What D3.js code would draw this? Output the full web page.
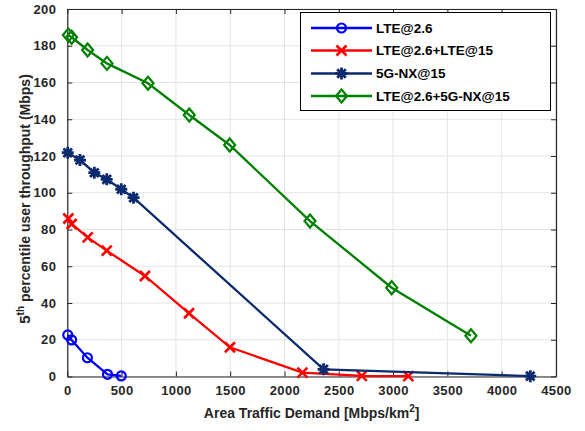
<!DOCTYPE html>
<html><head><meta charset="utf-8">
<script src="https://cdn.jsdelivr.net/npm/d3@7"></script>
<style>
html,body{margin:0;padding:0;background:#fff;}
svg{display:block;font-family:"Liberation Sans",Arial,sans-serif;font-weight:bold;}
</style></head>
<body><svg id="c" width="585" height="431"></svg>
<script>
const seriesNames = ["LTE@2.6","LTE@2.6+LTE@15","5G-NX@15","LTE@2.6+5G-NX@15"];
const lteX = [4, 40, 185, 370, 497];
const lteY = [22.6, 19.9, 10.2, 1.2, 0.3];
const lte15X = [10, 40, 188, 363, 715, 1121, 1498, 2165, 2712, 3140];
const lte15Y = [86, 83, 75.7, 68.5, 54.7, 34.4, 15.9, 2.1, 0.3, 0.2];
const nxX = [4, 117, 249, 363, 497, 610, 2360, 4263];
const nxY = [121.8, 117.8, 110.9, 107.3, 101.9, 97.3, 3.9, 0.2];
const comboX = [10, 40, 187, 365, 743, 1123, 1495, 2235, 2987, 3717];
const comboY = [185.8, 184.6, 177.7, 170.4, 159.6, 142.3, 126, 84.6, 48.3, 22.2];
const xTicks = [0,500,1000,1500,2000,2500,3000,3500,4000,4500];
const yTicks = [0,20,40,60,80,100,120,140,160,180,200];
const colors = ["#0000ff","#ff0000","#0c2a6e","#008000"];
const markers = ["circle","x","star","diamond"];

const svg = d3.select("#c");
const L=67.3, R=556, T=9, B=376.5;
const x = d3.scaleLinear().domain([0,4500]).range([L,R]);
const y = d3.scaleLinear().domain([0,200]).range([B,T]);
const axisCol = "#262626";

// grid
const g = svg.append("g");
g.selectAll(".vg").data(xTicks).enter().append("line")
  .attr("x1",d=>x(d)).attr("x2",d=>x(d)).attr("y1",T).attr("y2",B)
  .attr("stroke","#e3e3e3").attr("stroke-width",1);
g.selectAll(".hg").data(yTicks).enter().append("line")
  .attr("y1",d=>y(d)).attr("y2",d=>y(d)).attr("x1",L).attr("x2",R)
  .attr("stroke","#e3e3e3").attr("stroke-width",1);

// axes with inward ticks
const tl = 5;
const ax = svg.append("g").attr("transform",`translate(0,${B})`)
  .call(d3.axisBottom(x).tickValues(xTicks).tickSizeInner(-tl).tickSizeOuter(0).tickPadding(9).tickFormat(d3.format("d")));
const axT = svg.append("g").attr("transform",`translate(0,${T})`)
  .call(d3.axisTop(x).tickValues(xTicks).tickSizeInner(-tl).tickSizeOuter(0).tickFormat(""));
const ay = svg.append("g").attr("transform",`translate(${L},0)`)
  .call(d3.axisLeft(y).tickValues(yTicks).tickSizeInner(-tl).tickSizeOuter(0).tickPadding(11).tickFormat(d3.format("d")));
const ayR = svg.append("g").attr("transform",`translate(${R},0)`)
  .call(d3.axisRight(y).tickValues(yTicks).tickSizeInner(-tl).tickSizeOuter(0).tickFormat(""));
[ax,axT,ay,ayR].forEach(a=>{
  a.select(".domain").attr("stroke",axisCol).attr("stroke-width",1.2);
  a.selectAll(".tick line").attr("stroke",axisCol).attr("stroke-width",1);
  a.selectAll("text").attr("fill",axisCol).style("font-size","13px")
   .style("font-family","'Liberation Sans',Arial,sans-serif").style("font-weight","bold")
   .style("letter-spacing","0.4px");
});

function drawMarker(sel, type, col){
  if(type==="circle"){
    sel.append("circle").attr("r",4.5).attr("fill","none").attr("stroke",col).attr("stroke-width",2.2);
  } else if(type==="x"){
    const s=5;
    sel.append("path").attr("d",`M${-s},${-s}L${s},${s}M${-s},${s}L${s},${-s}`)
      .attr("stroke",col).attr("stroke-width",2.6).attr("fill","none");
  } else if(type==="star"){
    const s=6, d=4.3;
    sel.append("path").attr("d",`M${-s},0L${s},0M0,${-s}L0,${s}M${-d},${-d}L${d},${d}M${-d},${d}L${d},${-d}`)
      .attr("stroke",col).attr("stroke-width",2.8).attr("fill","none");
  } else {
    const h=6.5, w=5.5;
    sel.append("path").attr("d",`M0,${-h}L${w},0L0,${h}L${-w},0Z`)
      .attr("stroke",col).attr("stroke-width",2.2).attr("fill","none");
  }
}

const data = [
  lteX.map((v,i)=>[v,lteY[i]]),
  lte15X.map((v,i)=>[v,lte15Y[i]]),
  nxX.map((v,i)=>[v,nxY[i]]),
  comboX.map((v,i)=>[v,comboY[i]])
];
const line = d3.line().x(d=>x(d[0])).y(d=>y(d[1]));
data.forEach((s,k)=>{
  const gg = svg.append("g");
  gg.append("path").datum(s).attr("d",line).attr("fill","none")
    .attr("stroke",colors[k]).attr("stroke-width",2.3);
  gg.selectAll(".m").data(s).enter().append("g")
    .attr("transform",d=>`translate(${x(d[0])},${y(d[1])})`)
    .each(function(){ drawMarker(d3.select(this), markers[k], colors[k]); });
});

// legend
const lg = svg.append("g");
lg.append("rect").attr("x",300.5).attr("y",12.5).attr("width",250).attr("height",98)
  .attr("fill","#fff").attr("stroke","#000").attr("stroke-width",1);
const ly = [28, 50.5, 73.5, 96];
seriesNames.forEach((n,k)=>{
  const row = lg.append("g").attr("transform",`translate(0,${ly[k]})`);
  row.append("line").attr("x1",311).attr("x2",372).attr("y1",0).attr("y2",0)
    .attr("stroke",colors[k]).attr("stroke-width",2.3);
  drawMarker(row.append("g").attr("transform","translate(341.5,0)"), markers[k], colors[k]);
  row.append("text").attr("x",376).attr("y",0).attr("dy","0.36em")
    .attr("fill","#000").style("font-size","13.5px").text(n);
});

// x label
const xl = svg.append("text").attr("x",(L+R)/2).attr("y",418).attr("text-anchor","middle")
  .attr("fill",axisCol).style("font-size","14px");
xl.append("tspan").text("Area Traffic Demand [Mbps/km");
xl.append("tspan").attr("dy",-6).style("font-size","10px").text("2");
xl.append("tspan").attr("dy",6).text("]");

// y label
const yl = svg.append("text").attr("transform","translate(30,199) rotate(-90)")
  .attr("text-anchor","middle").attr("fill",axisCol).style("font-size","14px");
yl.append("tspan").style("font-size","15px").text("5");
yl.append("tspan").attr("dy",-6).style("font-size","10px").text("th");
yl.append("tspan").attr("dy",6).text(" percentile user throughput (Mbps)");
</script></body></html>
